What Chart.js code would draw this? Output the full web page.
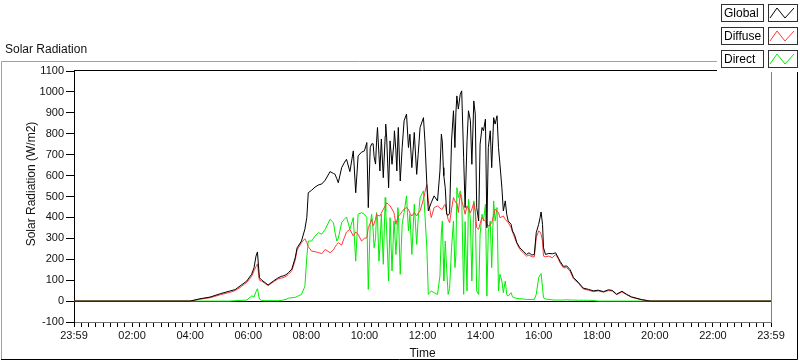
<!DOCTYPE html>
<html lang="en">
<head>
<meta charset="UTF-8">
<title>Solar Radiation</title>
<script src="https://cdn.jsdelivr.net/npm/chart.js@4"></script>
<style>
  html, body { margin: 0; padding: 0; background: #fff; }
  #wrap { width: 800px; height: 361px; }
</style>
</head>
<body>
<div id="wrap"><canvas id="chart" width="800" height="361"></canvas></div>
<script>
// sample times (the axis runs 23:59 -> 23:59, 0..24 h)
const times = [
  '00:00','04:00','04:20','04:41','05:02','05:22','05:33','05:43','05:57','06:07',
  '06:12','06:16','06:19','06:23','06:28','06:35','06:41','06:52','07:01','07:08',
  '07:12','07:18','07:23','07:30','07:37','07:41','07:50','07:57','08:01','08:04',
  '08:11','08:18','08:25','08:32','08:39','08:49','08:56','08:59','09:03','09:06',
  '09:13','09:18','09:23','09:30','09:37','09:42','09:47','09:54','10:00','10:05',
  '10:08','10:12','10:15','10:18','10:20','10:23','10:25','10:27','10:30','10:32',
  '10:35','10:39','10:43','10:44','10:46','10:50','10:53','10:57','11:01','11:02',
  '11:05','11:07','11:09','11:10','11:14','11:18','11:22','11:27','11:31','11:34',
  '11:38','11:43','11:48','11:51','11:55','12:02','12:05','12:09','12:12','12:18',
  '12:24','12:31','12:36','12:39','12:41','12:43','12:44','12:47','12:50','12:53',
  '12:56','13:00','13:04','13:07','13:09','13:11','13:14','13:18','13:21','13:25',
  '13:28','13:32','13:35','13:39','13:42','13:46','13:49','13:52','13:56','13:59',
  '14:03','14:06','14:10','14:13','14:16','14:20','14:23','14:27','14:30','14:34',
  '14:37','14:40','14:44','14:47','14:51','14:54','14:57','15:03','15:06','15:10',
  '15:15','15:21','15:28','15:35','15:40','15:46','15:51','15:55','16:00','16:03',
  '16:05','16:08','16:10','16:14','16:21','16:28','16:35','16:41','16:44','16:51',
  '16:58','17:05','17:12','17:22','17:32','17:43','17:53','18:03','18:14','18:24',
  '18:32','18:41','18:52','19:02','19:12','19:23','19:33','19:43','19:50','24:00'
]

const globalRad = [
  0, 0, 11, 19, 35, 48, 55, 72, 96, 128,
  160, 215, 235, 112, 100, 88, 77, 96, 110, 118,
  120, 126, 136, 153, 207, 255, 287, 344, 400, 518,
  530, 545, 555, 560, 578, 619, 610, 607, 585, 566,
  638, 660, 678, 619, 718, 518, 694, 712, 718, 758,
  447, 734, 752, 752, 690, 655, 760, 830, 700, 622,
  775, 590, 790, 846, 780, 542, 766, 654, 760, 814,
  720, 622, 770, 830, 574, 734, 862, 894, 734, 798,
  638, 806, 606, 700, 830, 877, 766, 558, 431, 470,
  503, 479, 622, 798, 760, 638, 600, 542, 415, 410,
  420, 766, 910, 734, 900, 981, 918, 989, 1005, 686,
  447, 766, 910, 862, 654, 957, 894, 447, 383, 750,
  830, 814, 870, 351, 734, 814, 638, 877, 846, 886,
  734, 654, 542, 431, 479, 415, 383, 367, 335, 318,
  279, 255, 239, 223, 231, 220, 223, 327, 367, 400,
  426, 367, 255, 223, 228, 226, 231, 205, 191, 166,
  168, 150, 112, 90, 62, 56, 49, 52, 45, 54,
  51, 33, 47, 32, 20, 13, 7, 3, 0, 0
]

const diffuseRad = [
  0, 0, 9, 16, 30, 42, 50, 65, 90, 118,
  145, 165, 178, 100, 95, 84, 74, 92, 105, 110,
  112, 118, 128, 145, 195, 245, 279, 298, 280, 260,
  239, 236, 232, 227, 247, 231, 245, 258, 270, 279,
  268, 300, 330, 343, 311, 330, 320, 287, 300, 303,
  351, 371, 391, 359, 370, 390, 415, 410, 408, 407,
  420, 439, 455, 462, 470, 462, 455, 440, 423, 410,
  367, 385, 399, 405, 415, 428, 440, 447, 439, 420,
  407, 423, 407, 420, 431, 487, 520, 558, 479, 399,
  447, 455, 445, 439, 440, 450, 455, 463, 420, 390,
  375, 440, 495, 479, 470, 470, 423, 511, 479, 447,
  415, 455, 440, 423, 440, 470, 430, 351, 343, 370,
  399, 390, 383, 370, 359, 365, 375, 410, 439, 430,
  423, 399, 403, 407, 391, 383, 375, 351, 330, 305,
  275, 247, 231, 215, 220, 212, 211, 303, 335, 330,
  319, 287, 215, 212, 215, 207, 223, 200, 183, 159,
  160, 142, 106, 85, 58, 52, 45, 49, 43, 50,
  48, 31, 44, 30, 18, 12, 6, 3, 0, 0
]

const directRad = [
  0, 0, 0, 0, 0, 0, 2, 3, 5, 25,
  20, 45, 59, 10, 3, 2, 2, 2, 2, 3,
  5, 8, 14, 16, 18, 22, 32, 70, 210, 287,
  287, 311, 327, 320, 343, 391, 375, 330, 287, 300,
  375, 390, 402, 344, 399, 191, 415, 423, 415, 399,
  56, 367, 415, 340, 255, 300, 423, 400, 191, 260,
  415, 176, 495, 430, 335, 96, 399, 144, 383, 360,
  223, 300, 447, 430, 128, 367, 423, 503, 335, 415,
  223, 463, 271, 390, 495, 527, 415, 255, 32, 48,
  40, 32, 120, 330, 383, 200, 96, 287, 150, 32,
  60, 255, 383, 160, 223, 542, 495, 527, 495, 32,
  380, 48, 487, 383, 96, 479, 431, 48, 32, 319,
  415, 383, 463, 24, 335, 383, 160, 479, 383, 447,
  48, 128, 96, 40, 96, 32, 24, 40, 20, 16,
  13, 11, 10, 8, 8, 8, 8, 32, 112, 125,
  131, 64, 16, 10, 8, 6, 5, 5, 5, 5,
  6, 5, 5, 4, 4, 4, 3, 0, 0, 0,
  0, 0, 0, 0, 0, 0, 0, 0, 0, 0
]

// major x labels every 2 h, minor ticks every 15 min
const xTickLabels = ['23:59', '02:00', '04:00', '06:00', '08:00', '10:00', '12:00',
  '14:00', '16:00', '18:00', '20:00', '22:00', '23:59']
const yTitle = 'Solar Radiation (W/m2)'
const chartTitle = 'Solar Radiation'

const FONT = '"Liberation Sans", Arial, sans-serif'
const toHours = t => {
  const [h, m] = t.split(':').map(Number)
  return h + m / 60
}
const points = vals => times.map((t, i) => ({ x: toHours(t), y: vals[i] }))

const series = [
  { label: 'Global', color: '#000000', data: globalRad, order: 0 },
  { label: 'Diffuse', color: '#ff3a3a', data: diffuseRad, order: 1 },
  { label: 'Direct', color: '#00ee00', data: directRad, order: 2 }
]

// panel frame, titles and the LabVIEW style legend
const framePlugin = {
  id: 'frame',
  beforeDraw(chart) {
    const { ctx } = chart
    ctx.save()
    ctx.fillStyle = '#fff'
    ctx.fillRect(0, 0, chart.width, chart.height)
    ctx.lineWidth = 1
    ctx.strokeStyle = '#a0a0a0'
    ctx.beginPath()
    ctx.moveTo(1.5, 360); ctx.lineTo(1.5, 61.5); ctx.lineTo(717, 61.5)
    ctx.stroke()
    ctx.strokeStyle = '#000'
    ctx.beginPath()
    ctx.moveTo(1, 359.5); ctx.lineTo(797.5, 359.5); ctx.lineTo(797.5, 72)
    ctx.stroke()

    ctx.fillStyle = '#111'
    ctx.font = '12px ' + FONT
    ctx.textBaseline = 'middle'
    ctx.fillText(chartTitle, 5, 50)

    ctx.translate(32, 184)
    ctx.rotate(-Math.PI / 2)
    ctx.textAlign = 'center'
    ctx.fillText(yTitle, 0, 0)
    ctx.restore()
  },
  afterDraw(chart) {
    const { ctx, chartArea: a } = chart
    ctx.save()
    ctx.lineWidth = 1
    // plot top / right border
    ctx.strokeStyle = '#000'
    ctx.beginPath()
    ctx.moveTo(a.left, a.top - 0.5); ctx.lineTo(a.right, a.top - 0.5)
    ctx.stroke()
    ctx.strokeStyle = '#808080'
    ctx.beginPath()
    ctx.moveTo(a.right + 0.5, a.top); ctx.lineTo(a.right + 0.5, a.bottom)
    ctx.stroke()

    // legend panel
    ctx.fillStyle = '#fff'
    ctx.fillRect(717, 0, 83, 72)
    ctx.font = '12px ' + FONT
    ctx.textBaseline = 'middle'
    series.forEach((s, i) => {
      const y0 = 4 + i * 23
      ctx.strokeStyle = '#303030'
      ctx.strokeRect(721.5, y0 + 0.5, 42, 17)
      ctx.strokeRect(768.5, y0 + 0.5, 29, 17)
      ctx.fillStyle = '#000'
      ctx.fillText(s.label, 724, y0 + 9.5)
      ctx.strokeStyle = s.color
      ctx.beginPath()
      ctx.moveTo(770, y0 + 14); ctx.lineTo(777, y0 + 4)
      ctx.lineTo(785, y0 + 14); ctx.lineTo(794, y0 + 4)
      ctx.stroke()
    })
    ctx.restore()
  }
}

new Chart(document.getElementById('chart'), {
  type: 'line',
  data: {
    datasets: series.map(s => ({
      label: s.label,
      data: points(s.data),
      borderColor: s.color,
      backgroundColor: s.color,
      borderWidth: 1,
      pointRadius: 0,
      tension: 0,
      order: s.order
    }))
  },
  options: {
    responsive: false,
    animation: false,
    devicePixelRatio: 1,
    layout: { padding: { top: 71, right: 29, left: 0, bottom: 0 } },
    plugins: { legend: { display: false }, tooltip: { enabled: false } },
    scales: {
      x: {
        type: 'linear',
        min: 0,
        max: 24,
        afterBuildTicks(scale) {
          const ticks = []
          for (let i = 0; i <= 96; i++) ticks.push({ value: i / 4 })
          scale.ticks = ticks
        },
        afterFit(scale) {
          scale.height = 39
          scale.paddingLeft = 0
          scale.paddingRight = 0
        },
        ticks: {
          autoSkip: false,
          maxRotation: 0,
          padding: 2,
          color: '#111',
          font: { family: FONT, size: 11 },
          callback: v => (v % 2 === 0 ? xTickLabels[v / 2] : '')
        },
        grid: { drawOnChartArea: false, tickLength: 5, color: '#000' },
        border: { color: '#707070' },
        title: {
          display: true,
          text: 'Time',
          color: '#111',
          font: { family: FONT, size: 12 },
          padding: { top: 0, bottom: 0 }
        }
      },
      y: {
        min: -100,
        max: 1100,
        afterFit(scale) {
          scale.width = 74
          scale.paddingTop = 0
          scale.paddingBottom = 0
        },
        ticks: {
          stepSize: 100,
          padding: 2,
          color: '#111',
          font: { family: FONT, size: 11 },
          callback: v => String(v)
        },
        grid: {
          tickLength: 8,
          color: ctx => (ctx.tick && ctx.tick.value === 0 ? '#000' : 'rgba(0,0,0,0)'),
          tickColor: '#000'
        },
        border: { color: '#000' }
      }
    }
  },
  plugins: [framePlugin]
})
</script>
</body>
</html>
